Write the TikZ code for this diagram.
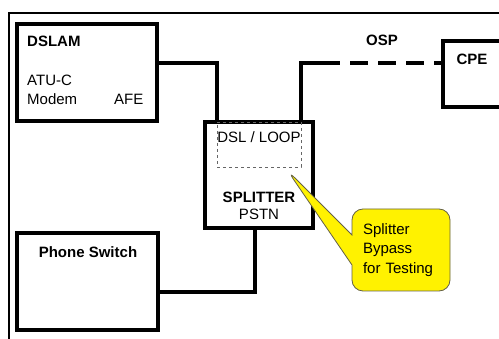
\documentclass[tikz,border=0pt]{standalone}
\usepackage{fontspec}
\setmainfont{Liberation Sans}
\usetikzlibrary{shapes.callouts}

\begin{document}
\begin{tikzpicture}[x=1pt,y=-1pt,line join=miter,
  box/.style={draw,line width=3.7pt,inner sep=0pt},
  wire/.style={line width=3.2pt},
  txt/.style={font=\fontsize{15}{19.5}\selectfont,inner sep=0pt},
  btxt/.style={txt,font=\fontsize{15}{19.5}\selectfont\bfseries},
  note/.style={rectangle callout,draw=black!70!yellow,fill=yellow,line width=0.8pt,
    rounded corners=11pt,minimum width=98pt,minimum height=82pt,align=left,txt,
    inner xsep=11pt,text width=76pt,callout pointer width=30pt}]
  \useasboundingbox (0,0) rectangle (499,339);
  \draw[line width=1.6pt] (9,345) -- (9,13) -- (505,13);
  % boxes
  \node[box,minimum width=140pt,minimum height=97pt] (dslam) at (87,72.5) {};
  \node[box,minimum width=108pt,minimum height=106pt] (split) at (259,175) {};
  \node[box,minimum width=141pt,minimum height=97pt] (phone) at (87.5,281.5) {};
  \node[box,minimum width=77pt,minimum height=66pt] (cpe) at (481.5,74) {};
  \node[draw=black!60,dashed,line width=0.6pt,minimum width=84pt,minimum height=45pt,inner sep=0pt] (loop) at (259,144.5) {};
  % texts
  \node[btxt,anchor=west] (dslamT) at (27,41) {DSLAM};
  \node[txt,anchor=west] (atu) at (27,80) {ATU-C};
  \node[txt,anchor=west] (modem) at (27,99) {Modem};
  \node[txt,anchor=west] (afe) at (114,99) {AFE};
  \node[txt] (loopT) at (259,137) {DSL / LOOP};
  \node[btxt] (splitT) at (259,197) {SPLITTER};
  \node[txt] (pstn) at (259,214) {PSTN};
  \node[btxt] (phoneT) at (88,252) {Phone Switch};
  \node[btxt] (osp) at (382,40) {OSP};
  \node[btxt] (cpeT) at (472,59) {CPE};
  % lines
  \coordinate (ospA) at (340,63);
  \draw[wire] ([yshift=9.5pt]dslam.east) -| ([xshift=-42pt]split.north);
  \draw[wire] ([xshift=42pt]split.north) |- (ospA);
  \draw[line width=4pt,dash pattern=on 18pt off 10pt,dash phase=18pt] (ospA) -- ([yshift=11pt]cpe.west);
  \draw[wire] ([yshift=-10.5pt]phone.east) -| ([xshift=-4pt]split.south);
  \node[note,callout absolute pointer={([xshift=-14pt,yshift=-3pt]loop.south east)}] (bypass) at (401,250) {Splitter\\Bypass\\for Testing};
\end{tikzpicture}
\end{document}
